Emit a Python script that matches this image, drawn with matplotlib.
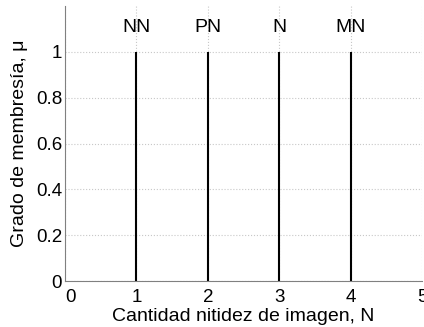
import numpy as np
import matplotlib.pyplot as plt
import matplotlib.transforms as mtransforms

plt.rcParams['font.family'] = ['Liberation Sans', 'DejaVu Sans']

# singleton membership functions
centers = [1, 2, 3, 4]
heights = [1, 1, 1, 1]
names = ["NN", "PN", "N", "MN"]

xticks = [0, 1, 2, 3, 4, 5]
yticks = [0, 0.2, 0.4, 0.6, 0.8, 1]

fig = plt.figure(figsize=(4.24, 3.27), dpi=100)
ax = fig.add_axes([65/424, 1 - 281/327, 357/424, 275/327])

ax.vlines(centers, 0, heights, color='black', linewidth=1.5)
for c, h, n in zip(centers, heights, names):
    ax.text(c, h + 0.105, n, ha='center', va='center', fontsize=14)

ax.set_xlim(0, 5)
ax.set_ylim(0, 1.2)
ax.set_xticks(xticks)
ax.set_yticks(yticks)
ax.set_xticklabels([str(v) for v in xticks])
ax.set_yticklabels(["0", "0.2", "0.4", "0.6", "0.8", "1"])
ax.tick_params(length=0, labelsize=13.5)
ax.tick_params(axis='x', pad=6)
ax.tick_params(axis='y', pad=2)
ax.grid(True, linestyle=':', color='#c8c8c8', linewidth=0.8)
ax.set_axisbelow(True)

# matlab-like offset of the x "0" label
lbl0 = ax.get_xticklabels()[0]
lbl0.set_transform(lbl0.get_transform() + mtransforms.ScaledTranslation(5/100, 0, fig.dpi_scale_trans))

for s in ['top', 'right']:
    ax.spines[s].set_visible(False)
for s in ['left', 'bottom']:
    ax.spines[s].set_color('#808080')

ax.set_xlabel("Cantidad nitidez de imagen, N", fontsize=14, labelpad=1)
ax.set_ylabel("Grado de membresía, μ", fontsize=14, labelpad=6)

plt.savefig("out.png", dpi=100)
